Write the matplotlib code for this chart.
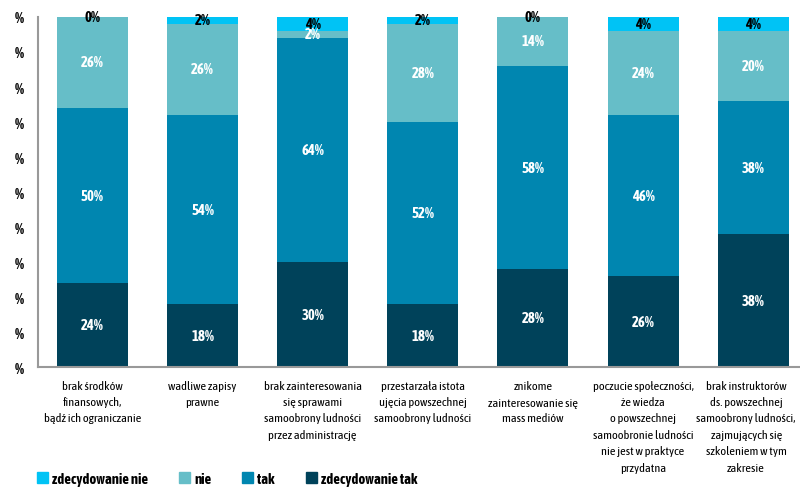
import numpy as np
import matplotlib
matplotlib.use("Agg")
import matplotlib.pyplot as plt
import matplotlib.transforms as mtransforms
from matplotlib.patches import Patch
from matplotlib import font_manager

# dane z wykresu (w %)
kategorie = [
    "brak środków\nfinansowych,\nbądź ich ograniczanie",
    "wadliwe zapisy\nprawne",
    "brak zainteresowania\nsię sprawami\nsamoobrony ludności\nprzez administrację",
    "przestarzała istota\nujęcia powszechnej\nsamoobrony ludności",
    "znikome\nzainteresowanie się\nmass mediów",
    "poczucie społeczności,\nże wiedza\no powszechnej\nsamoobronie ludności\nnie jest w praktyce\nprzydatna",
    "brak instruktorów\nds. powszechnej\nsamoobrony ludności,\nzajmujących się\nszkoleniem w tym\nzakresie",
]
zdecydowanie_tak = [24, 18, 30, 18, 28, 26, 38]
tak = [50, 54, 64, 52, 58, 46, 38]
nie = [26, 26, 2, 28, 14, 24, 20]
zdecydowanie_nie = [0, 2, 4, 2, 0, 4, 4]

kolory = ["#00425A", "#0086B0", "#66BEC8", "#00C3F5"]

# czcionka wąska (podobna do Myriad Condensed), jeśli jest
nazwy = {f.name for f in font_manager.fontManager.ttflist}
rodzina = "DejaVu Sans"
for kand in ["Asap Condensed", "Barlow Semi Condensed", "Roboto Condensed", "Archivo Narrow"]:
    if kand in nazwy:
        rodzina = kand
        break
plt.rcParams["font.family"] = [rodzina, "DejaVu Sans"]

fig = plt.figure(figsize=(8, 4.89), dpi=100)
ax = fig.add_axes([0.0475, 0.2474, 0.96, 0.7158])

x = np.arange(len(kategorie))
dane = [zdecydowanie_tak, tak, nie, zdecydowanie_nie]
dol = np.zeros(len(kategorie))
for i, (wartosci, kolor) in enumerate(zip(dane, kolory)):
    w = np.array(wartosci, dtype=float)
    ax.bar(x, w, bottom=dol, width=0.645, color=kolor, edgecolor="none")
    for xi, b, v in zip(x, dol, w):
        kol_t = "black" if i == 3 else "white"
        ax.text(xi, b + v / 2, f"{int(v)}%", ha="center", va="center",
                fontsize=10.5, fontweight="bold", color=kol_t)
    dol += w

ax.set_xlim(-0.495, 6.48)
ax.set_ylim(0, 100)
ax.set_yticks(np.arange(0, 101, 10))
ax.set_yticklabels(["%"] * 11, fontsize=10.5, fontweight="bold")
ax.tick_params(axis="y", length=0, pad=10)
ax.set_xticks(x)
ax.set_xticklabels(kategorie, fontsize=8.9, linespacing=1.6, va="top")
ax.tick_params(axis="x", length=0, pad=9)

# ostatni podpis lekko w lewo, żeby nie uciekał za krawędź
etyk = ax.get_xticklabels()[-1]
etyk.set_transform(etyk.get_transform() +
                   mtransforms.ScaledTranslation(-5 / 72, 0, fig.dpi_scale_trans))

for s in ["top", "right"]:
    ax.spines[s].set_visible(False)
for s in ["left", "bottom"]:
    ax.spines[s].set_color("#999999")
    ax.spines[s].set_linewidth(1.5)

uchwyty = [Patch(color=kolory[3]), Patch(color=kolory[2]),
           Patch(color=kolory[1]), Patch(color=kolory[0])]
etykiety = ["zdecydowanie nie", "nie", "tak", "zdecydowanie tak"]
fig.legend(uchwyty, etykiety, loc="lower left", bbox_to_anchor=(0.03, -0.022),
           ncol=4, frameon=False, prop={"weight": "bold", "size": 10.5},
           handlelength=0.75, handleheight=0.75, handletextpad=0.3,
           columnspacing=2.1)

fig.savefig("out.png", dpi=100)
